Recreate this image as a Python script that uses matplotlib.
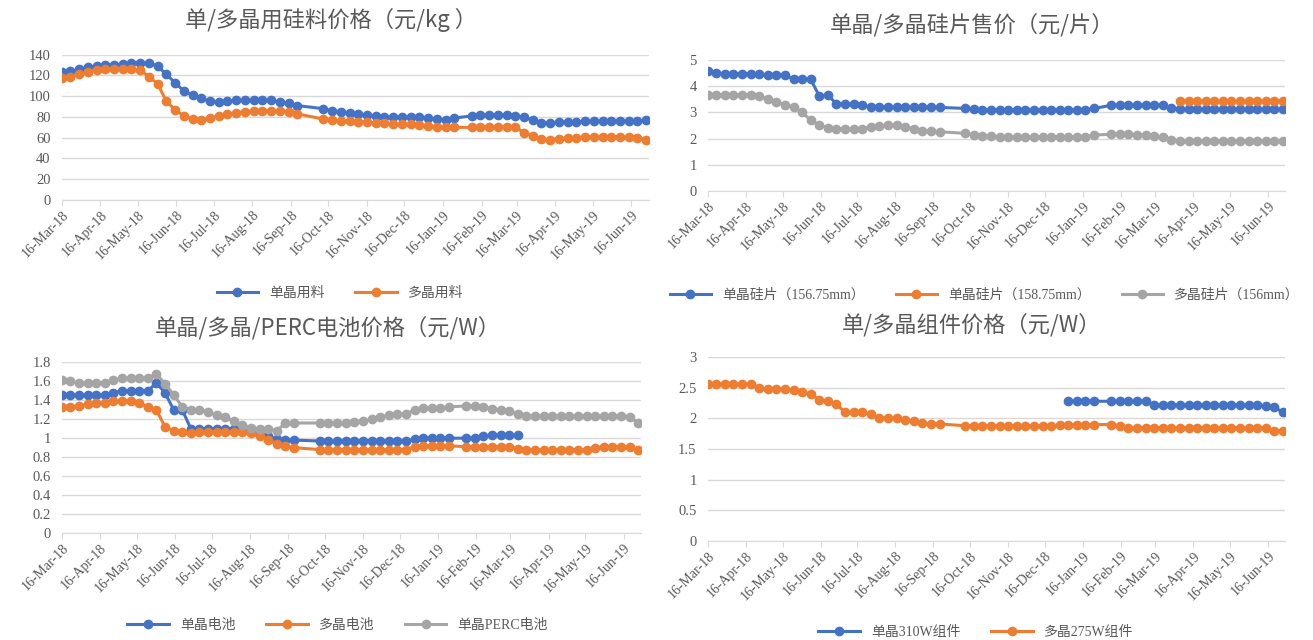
import numpy as np
import pandas as pd
import matplotlib
matplotlib.use('Agg')
import matplotlib.pyplot as plt
import matplotlib.dates as mdates
from matplotlib.ticker import FuncFormatter

plt.rcParams['font.family'] = ['Liberation Serif', 'Noto Sans CJK SC']

# weekly quotes, holiday weeks have no quote
dates = pd.date_range('2018-03-16', '2019-06-28', freq='7D')
dates = dates.drop(pd.to_datetime(['2018-09-28', '2018-10-05', '2019-02-01']))
nan = np.nan

# polysilicon (yuan/kg)
poly_mono = [123, 124, 126,
             128, 129, 130, 130,
             131, 132, 132, 132,
             129, 121, 113, 105, 101,
             98, 95, 94, 95,
             96, 96, 96, 96, 96,
             94, 93, 91,
             88, 86, 85,
             84, 83, 82, 81, 80,
             80, 80, 80, 80,
             79, 78, 77, 79,
             81, 82, 82,
             82, 82, 81, 80, 77,
             74, 74, 75, 75,
             75, 76, 76, 76, 76,
             76, 76, 76, 77]
poly_multi = [118, 119, 121,
              123, 125, 126, 126,
              126, 126, 125, 119,
              112, 95, 87, 81, 78,
              77, 79, 81, 83,
              84, 85, 86, 86, 86,
              86, 85, 83,
              78, 77, 76,
              76, 75, 75, 74, 74,
              73, 73, 73, 72,
              71, 70, 70, 70,
              70, 70, 70,
              70, 70, 70, 65, 62,
              59, 58, 59, 60,
              60, 61, 61, 61, 61,
              61, 61, 60, 58]

# wafers (yuan/piece)
wafer_mono_15675 = [4.56, 4.50, 4.48,
                    4.48, 4.48, 4.48, 4.45,
                    4.43, 4.43, 4.43, 4.26,
                    4.26, 4.26, 3.62, 3.66, 3.32,
                    3.32, 3.32, 3.30, 3.19,
                    3.19, 3.19, 3.19, 3.19, 3.19,
                    3.19, 3.19, 3.19,
                    3.15, 3.12, 3.10,
                    3.10, 3.10, 3.10, 3.10, 3.10,
                    3.10, 3.10, 3.10, 3.10,
                    3.10, 3.10, 3.10, 3.15,
                    3.27, 3.27, 3.27,
                    3.27, 3.27, 3.27, 3.27, 3.15,
                    3.12, 3.12, 3.12, 3.12,
                    3.12, 3.12, 3.12, 3.12, 3.12,
                    3.12, 3.12, 3.12, 3.12]
wafer_mono_15875 = [nan] * 52 + [3.45] * 13
wafer_multi = [3.68, 3.68, 3.68,
               3.68, 3.68, 3.66, 3.62,
               3.50, 3.38, 3.30, 3.20,
               3.00, 2.70, 2.50, 2.42, 2.38,
               2.37, 2.37, 2.38, 2.45,
               2.48, 2.50, 2.50, 2.45, 2.38,
               2.30, 2.27, 2.26,
               2.20, 2.14, 2.10,
               2.08, 2.07, 2.07, 2.07, 2.07,
               2.07, 2.07, 2.07, 2.07,
               2.07, 2.07, 2.07, 2.14,
               2.16, 2.16, 2.16,
               2.15, 2.13, 2.10, 2.05, 1.96,
               1.92, 1.90, 1.90, 1.90,
               1.90, 1.90, 1.90, 1.90, 1.90,
               1.90, 1.90, 1.90, 1.90]

# cells (yuan/W)
cell_mono = [1.45, 1.45, 1.45,
             1.45, 1.45, 1.45, 1.48,
             1.50, 1.50, 1.50, 1.50,
             1.58, 1.48, 1.30, 1.30, 1.10,
             1.10, 1.10, 1.10, 1.10,
             1.10, 1.08, 1.06, 1.03, 1.02,
             0.99, 0.98, 0.98,
             0.97, 0.97, 0.97,
             0.97, 0.97, 0.97, 0.97, 0.97,
             0.97, 0.97, 0.97, 0.99,
             1.00, 1.00, 1.00, 1.00,
             1.00, 1.00, 1.02,
             1.03, 1.03, 1.03, 1.03, nan] + [nan] * 13
cell_multi = [1.33, 1.33, 1.34,
              1.36, 1.37, 1.37, 1.39,
              1.39, 1.39, 1.37, 1.33,
              1.30, 1.12, 1.08, 1.06, 1.05,
              1.06, 1.06, 1.06, 1.06,
              1.06, 1.07, 1.05, 1.02, 0.98,
              0.94, 0.92, 0.90,
              0.88, 0.88, 0.88,
              0.88, 0.88, 0.88, 0.88, 0.88,
              0.88, 0.88, 0.88, 0.91,
              0.92, 0.92, 0.92, 0.92,
              0.91, 0.91, 0.91,
              0.91, 0.91, 0.91, 0.89, 0.88,
              0.88, 0.88, 0.88, 0.88,
              0.88, 0.88, 0.88, 0.90, 0.91,
              0.91, 0.91, 0.91, 0.88]
cell_perc = [1.61, 1.60, 1.58,
             1.58, 1.58, 1.58, 1.61,
             1.63, 1.63, 1.63, 1.63,
             1.68, 1.57, 1.46, 1.33, 1.30,
             1.30, 1.28, 1.24, 1.22,
             1.18, 1.14, 1.11, 1.10, 1.10,
             1.08, 1.16, 1.16,
             1.16, 1.16, 1.16,
             1.16, 1.17, 1.18, 1.20, 1.22,
             1.24, 1.25, 1.25, 1.30,
             1.32, 1.32, 1.32, 1.33,
             1.34, 1.34, 1.33,
             1.31, 1.30, 1.29, 1.25, 1.23,
             1.23, 1.23, 1.23, 1.23,
             1.23, 1.23, 1.23, 1.23, 1.23,
             1.23, 1.23, 1.22, 1.16]

# modules (yuan/W)
module_mono = [nan] * 40 + [2.28, 2.28, 2.28, 2.28,
                            2.28, 2.28, 2.28,
                            2.28, 2.28, 2.22, 2.22, 2.22,
                            2.22, 2.22, 2.22, 2.22,
                            2.22, 2.22, 2.22, 2.22, 2.22,
                            2.22, 2.20, 2.18, 2.10]
module_multi = [2.56, 2.56, 2.56,
                2.56, 2.56, 2.56, 2.50,
                2.48, 2.48, 2.48, 2.46,
                2.43, 2.40, 2.30, 2.29, 2.23,
                2.10, 2.10, 2.10, 2.07,
                2.01, 2.00, 2.00, 1.97, 1.95,
                1.92, 1.91, 1.91,
                1.88, 1.88, 1.88,
                1.88, 1.88, 1.88, 1.88, 1.88,
                1.88, 1.88, 1.88, 1.89,
                1.90, 1.90, 1.90, 1.90,
                1.90, 1.88, 1.85,
                1.85, 1.85, 1.85, 1.85, 1.85,
                1.85, 1.85, 1.85, 1.85,
                1.85, 1.85, 1.85, 1.85, 1.85,
                1.85, 1.85, 1.80, 1.80]

BLUE, ORANGE, GRAY = '#4472C4', '#ED7D31', '#A5A5A5'
TXT = '#595959'

fig = plt.figure(figsize=(13.13, 6.4), dpi=100)


def panel(rect, series, ymax, step, title, title_xy, leg_xy):
    ax = fig.add_axes(rect)
    for vals, color, label in series:
        ax.plot(dates, vals, color=color, lw=2.2, marker='o', ms=6,
                mec=color, mfc=color, label=label)
    ax.set_ylim(0, ymax)
    ax.set_yticks(np.arange(0, ymax + step / 2, step))
    ax.yaxis.set_major_formatter(FuncFormatter(lambda v, p: f'{v:g}'))
    ax.set_xlim(pd.Timestamp('2018-03-16'), pd.Timestamp('2019-06-30'))
    ax.xaxis.set_major_locator(mdates.MonthLocator(bymonthday=16))
    ax.xaxis.set_major_formatter(mdates.DateFormatter('%d-%b-%y'))
    plt.setp(ax.get_xticklabels(), rotation=45, ha='right', rotation_mode='anchor')
    ax.grid(axis='y', color='#D9D9D9', lw=1)
    ax.set_axisbelow(True)
    for s in ['top', 'right', 'left']:
        ax.spines[s].set_visible(False)
    ax.spines['bottom'].set_color('#D9D9D9')
    ax.tick_params(axis='y', length=0, labelsize=10.5, labelcolor=TXT, pad=8)
    ax.tick_params(axis='x', length=4, color='#D9D9D9', labelsize=10,
                   labelcolor=TXT, pad=2)
    fig.text(title_xy[0], title_xy[1], title, ha='center', va='center',
             fontsize=16, color=TXT, fontweight='light',
             family=['Noto Sans CJK SC'])
    ax.legend(loc='center', bbox_to_anchor=leg_xy, bbox_transform=fig.transFigure,
              ncol=len(series), frameon=False, handlelength=3, columnspacing=2.2,
              fontsize=10, labelcolor=TXT)
    return ax


panel([0.047, 0.6875, 0.447, 0.227],
      [(poly_mono, BLUE, '单晶用料'), (poly_multi, ORANGE, '多晶用料')],
      140, 20, '单/多晶用硅料价格（元/kg ）', (0.252, 0.969), (0.259, 0.542))

panel([0.539, 0.7016, 0.44, 0.2047],
      [(wafer_mono_15675, BLUE, '单晶硅片（156.75mm）'),
       (wafer_mono_15875, ORANGE, '单晶硅片（158.75mm）'),
       (wafer_multi, GRAY, '多晶硅片（156mm）')],
      5, 1, '单晶/多晶硅片售价（元/片）', (0.740, 0.961), (0.750, 0.539))

panel([0.047, 0.167, 0.441, 0.267],
      [(cell_mono, BLUE, '单晶电池'), (cell_multi, ORANGE, '多晶电池'),
       (cell_perc, GRAY, '单晶PERC电池')],
      1.8, 0.2, '单晶/多晶/PERC电池价格（元/W）', (0.250, 0.4875), (0.257, 0.023))

panel([0.539, 0.1547, 0.44, 0.2873],
      [(module_mono, BLUE, '单晶310W组件'), (module_multi, ORANGE, '多晶275W组件')],
      3, 0.5, '单/多晶组件价格（元/W）', (0.740, 0.492), (0.743, 0.0125))

fig.savefig('out.png', dpi=100, facecolor='white')
